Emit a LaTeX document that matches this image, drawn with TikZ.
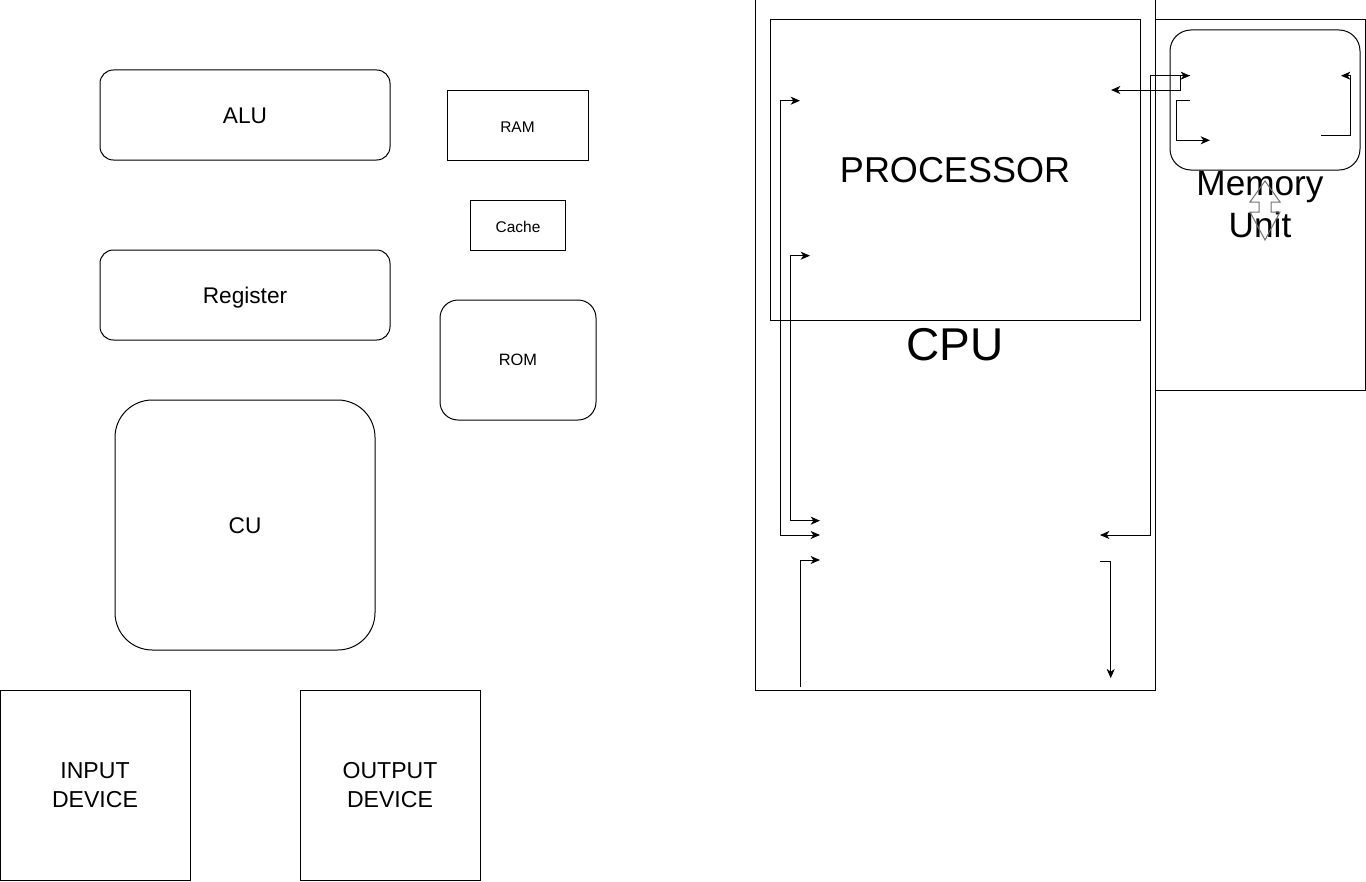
\documentclass[tikz,border=0pt]{standalone}
\usepackage{fontspec}
\setmainfont{Liberation Sans}
\usetikzlibrary{arrows.meta}
\begin{document}
\begin{tikzpicture}[x=0.75pt,y=-0.75pt,
  box/.style={draw,line width=0.75pt,inner sep=0pt,outer sep=0pt,align=center,shape=rectangle},
  mid/.style={font=\fontsize{17}{21.5}\selectfont,text height=12.3pt,text depth=0pt},
  small/.style={font=\fontsize{11.6}{14}\selectfont,text height=11.2pt,text depth=0pt},
  tipA/.tip={Stealth[length=7pt,width=6pt,inset=2pt]},
  arr/.style={line width=0.75pt,-tipA},
  darr/.style={line width=0.75pt,tipA-tipA}]
\useasboundingbox (0,0) rectangle (1366,881);
% left side components
\node[box,mid,rounded corners=10pt,minimum width=217.5pt,minimum height=67.5pt] (alu) at (245,115) {ALU};
\node[box,mid,rounded corners=10pt,minimum width=217.5pt,minimum height=67.5pt] (reg) at (245,295) {Register};
\node[box,small,minimum width=105.75pt,minimum height=52.5pt] (ram) at (517.5,125) {RAM};
\node[box,small,minimum width=71.25pt,minimum height=37.5pt] (cache) at (518,225) {Cache};
\node[box,font=\fontsize{12.3}{15}\selectfont,rounded corners=13.5pt,minimum width=117pt,minimum height=90pt] (rom) at (518,360) {ROM};
\node[box,mid,rounded corners=28pt,minimum width=195pt,minimum height=187.5pt] (cu) at (245,525) {CU};
\node[box,font=\fontsize{17.3}{22}\selectfont,minimum width=142.5pt,minimum height=142.5pt] (in) at (95,785) {INPUT\\DEVICE};
\node[box,font=\fontsize{17.3}{22}\selectfont,minimum width=135pt,minimum height=142.5pt] (out) at (390,785) {OUTPUT\\DEVICE};
% right side
\node[box,font=\fontsize{26.4}{31.5}\selectfont,minimum width=157.5pt,minimum height=277.5pt] (mem) at (1260,205) {Memory\\Unit};
\node[box,font=\fontsize{34.5}{40}\selectfont,minimum width=300pt,minimum height=517.5pt] (cpu) at (955,345) {CPU};
\node[box,font=\fontsize{27}{32}\selectfont,minimum width=277.5pt,minimum height=225pt] (proc) at (955,170) {PROCESSOR};
\node[box,rounded corners=15.75pt,minimum width=142.5pt,minimum height=105pt] (memin) at (1265,100) {};
% double block arrow
\draw[line width=0.75pt,draw={rgb,255:red,110;green,110;blue,110}] (1265,181) -- (1280,202) -- (1271,202) -- (1271,212) -- (1280,212) -- (1265,240) -- (1250,212) -- (1259,212) -- (1259,202) -- (1250,202) -- cycle;
% connector end points
\coordinate (t1) at (1100,535);
\coordinate (t2a) at (1111,90);
\coordinate (t2b) at (1190,75.7);
\coordinate (s3) at (1190,100.7);
\coordinate (t3) at (1210,140.3);
\coordinate (s4) at (1321,135);
\coordinate (t4) at (1341,75.7);
\coordinate (s5) at (820,535);
\coordinate (t5) at (800,100.7);
\coordinate (s6) at (820,520.7);
\coordinate (t6) at (810,255.7);
\coordinate (s7) at (800.7,687.3);
\coordinate (t7) at (820,560);
\coordinate (s8) at (1100,561.7);
\coordinate (t8) at (1110.7,678.3);
% connectors
\draw[arr] (t2b) -- (1150,75.7) |- (t1);
\draw[darr] (t2a) -- (1180,90) |- (t2b);
\draw[arr] (s3) -- (1176,100.7) |- (t3);
\draw[arr] (s4) -| (1350,75.7) -- (t4);
\draw[darr] (s5) -- (780.7,535) |- (t5);
\draw[darr] (s6) -- (790.7,520.7) |- (t6);
\draw[arr] (s7) |- (t7);
\draw[arr] (s8) -| (t8);
\end{tikzpicture}
\end{document}
